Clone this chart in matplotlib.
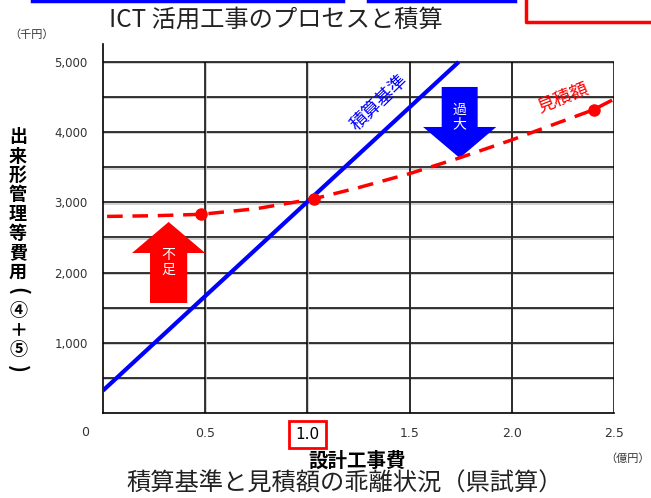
import matplotlib.pyplot as plt
import matplotlib.patheffects as pe
from matplotlib.lines import Line2D
from matplotlib.patches import FancyArrow

plt.rcParams["font.family"] = ["Noto Sans CJK JP", "DejaVu Sans"]

W, H = 651, 498

# 横軸：設計工事費（億円）
cost_ticks = [0.5, 1.0, 1.5, 2.0, 2.5]
cost_tick_labels = ["0.5", "1.0", "1.5", "2.0", "2.5"]

# 縦軸：出来形管理等費用（千円）
fee_ticks = [1000, 2000, 3000, 4000, 5000]
fee_tick_labels = ["1,000", "2,000", "3,000", "4,000", "5,000"]
grid_y = [500, 1000, 1500, 2000, 2500, 3000, 3500, 4000, 4500, 5000]
grid_x = [0.5, 1.0, 1.5, 2.0, 2.5]

# 積算基準（直線）
standard_x = [0.0, 1.74]
standard_y = [320, 5000]

# 見積額（破線）
estimate_x = [0.02, 0.25, 0.48, 0.75, 1.03, 1.25, 1.5, 1.74, 2.0, 2.4, 2.5]
estimate_y = [2800, 2810, 2830, 2910, 3050, 3210, 3410, 3630, 3890, 4320, 4470]

# 見積の実績点
sample_x = [0.48, 1.03, 2.4]
sample_y = [2830, 3050, 4320]

ylabel_chars = ["出", "来", "形", "管", "理", "等", "費", "用", "(", "④", "＋", "⑤", ")"]


def px(x, y):
    # ピクセル座標（左上原点）を figure 座標に変換
    return x / W, 1 - y / H


fig = plt.figure(figsize=(W / 100, H / 100), dpi=100)
ax = fig.add_axes([103 / W, 85 / H, 511 / W, 369 / H])
ax.set_xlim(0, 2.5)
ax.set_ylim(0, 5256)

for side in ["top", "right"]:
    ax.spines[side].set_visible(False)
ax.spines["left"].set_linewidth(1.2)
ax.spines["bottom"].set_linewidth(1.2)

shadow = [pe.SimpleLineShadow(offset=(0.5, -0.9), shadow_color="#c4c4c4", alpha=1.0), pe.Normal()]
ax.hlines(grid_y, 0, 2.5, colors="black", linewidth=1.1, path_effects=shadow, zorder=1)
ax.vlines(grid_x, 0, 5000, colors="black", linewidth=1.1, path_effects=shadow, zorder=1)

# 不足・過大の矢印
ax.add_patch(FancyArrow(0.321, 1567, 0, 2721 - 1567, width=0.182, head_width=0.358,
                        head_length=442, length_includes_head=True,
                        color="#ff0000", linewidth=0, zorder=2))
ax.text(0.321, 2150, "不\n足", color="white", fontsize=10, ha="center", va="center",
        linespacing=1.05, zorder=3)
ax.add_patch(FancyArrow(1.745, 4644, 0, 3632 - 4644, width=0.176, head_width=0.358,
                        head_length=442, length_includes_head=True,
                        color="#0000ff", linewidth=0, zorder=2))
ax.text(1.745, 4210, "過\n大", color="white", fontsize=10, ha="center", va="center",
        linespacing=1.05, zorder=3)

ax.plot(standard_x, standard_y, color="#0000ff", linewidth=3, solid_capstyle="butt", zorder=4)
ax.plot(estimate_x, estimate_y, color="#ff0000", linewidth=2.5, dashes=(4.5, 2.8), zorder=4)
ax.plot(sample_x, sample_y, "o", color="#ff0000", markersize=8, zorder=5)

ax.text(1.35, 4420, "積算基準", color="#0000ff", fontsize=13, rotation=44,
        ha="center", va="center", rotation_mode="anchor")
ax.text(2.25, 4480, "見積額", color="#ff0000", fontsize=13, rotation=22,
        ha="center", va="center", rotation_mode="anchor")

ax.set_xticks(cost_ticks, cost_tick_labels, fontsize=9, color="#333333")
ax.set_yticks(fee_ticks, fee_tick_labels, fontsize=8.5, color="#333333")
ax.tick_params(axis="both", length=0)
ax.tick_params(axis="x", pad=10)
ax.tick_params(axis="y", pad=11)
for label in ax.get_xticklabels():
    label.set_family("DejaVu Sans")
for label in ax.get_yticklabels():
    label.set_family("DejaVu Sans")
one = ax.get_xticklabels()[1]
one.set_fontsize(11)
one.set_color("black")
one.set_bbox(dict(facecolor="none", edgecolor="#ff0000", linewidth=2, boxstyle="square,pad=0.4"))

fig.text(*px(85, 432), "0", fontsize=9, color="#333333", ha="center", va="center",
         family="DejaVu Sans")
fig.text(*px(32, 35), "（千円）", fontsize=8, color="#333333", ha="center", va="center")
fig.text(*px(628, 459), "（億円）", fontsize=8, color="#333333", ha="center", va="center")

for i, ch in enumerate(ylabel_chars):
    # 括弧は縦書き用に回転させる
    rot = -90 if ch in "()" else 0
    size = 15 if ch in "()" else 13
    fig.text(*px(18, 137 + i * 19.3), ch, fontsize=size, fontweight="bold",
             ha="center", va="center", rotation=rot)

fig.text(*px(357, 461), "設計工事費", fontsize=14, fontweight="bold", ha="center", va="center")
fig.text(*px(345, 484), "積算基準と見積額の乖離状況（県試算）", fontsize=17.5,
         color="#222222", ha="center", va="center")
fig.text(*px(276, 20), "ICT 活用工事のプロセスと積算", fontsize=17.5,
         color="#222222", ha="center", va="center")

# 上部の枠線
fig.add_artist(Line2D([32 / W, 343 / W], [1 - 1 / H, 1 - 1 / H], color="#0000ff", linewidth=2.5))
fig.add_artist(Line2D([368 / W, 515 / W], [1 - 1 / H, 1 - 1 / H], color="#0000ff", linewidth=2.5))
fig.add_artist(Line2D([526 / W, 526 / W, 1.0], [1.0, 1 - 22 / H, 1 - 22 / H],
                      color="#ff0000", linewidth=2.5))

fig.savefig("out.png", dpi=100)
